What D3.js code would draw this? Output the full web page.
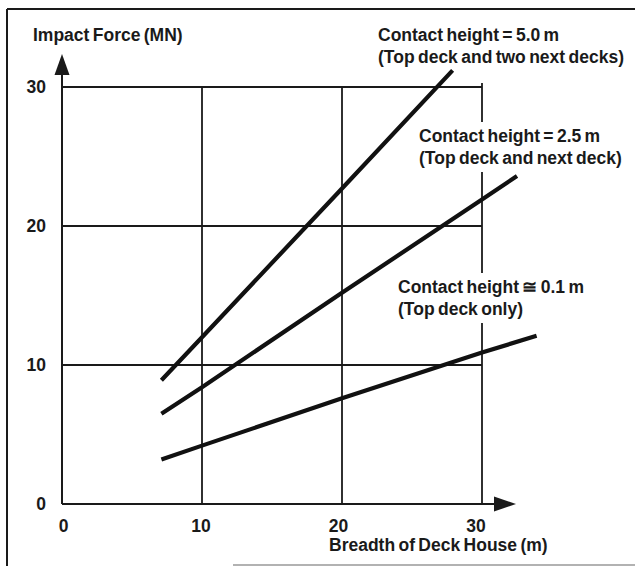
<!DOCTYPE html>
<html>
<head>
<meta charset="utf-8">
<script src="https://cdn.jsdelivr.net/npm/d3@7"></script>
<style>
  html, body { margin: 0; padding: 0; background: #fff; }
  svg { display: block; }
  text { font-family: "Liberation Sans", Arial, sans-serif; font-weight: bold; fill: #1a1a1a; }
</style>
</head>
<body>
<svg id="chart" width="635" height="566"></svg>
<script>
// ---- data ----
const xTicks = [0, 10, 20, 30];
const yTicks = [0, 10, 20, 30];
const xLabel = "Breadth of Deck House (m)";
const yLabel = "Impact Force (MN)";

const seriesNames = ["Contact height = 5.0 m", "Contact height = 2.5 m", "Contact height \u2245 0.1 m"];
const seriesSubs = ["(Top deck and two next decks)", "(Top deck and next deck)", "(Top deck only)"];

const breadth50 = [7.1, 10, 20, 27.9];
const force50   = [8.9, 12.0, 22.7, 31.2];
const breadth25 = [7.1, 10, 20, 30, 32.5];
const force25   = [6.5, 8.4, 15.2, 21.9, 23.6];
const breadth01 = [7.1, 10, 20, 30, 33.9];
const force01   = [3.2, 4.2, 7.6, 10.9, 12.1];

// ---- layout ----
const svg = d3.select("#chart");
const x = d3.scaleLinear().domain([0, 30]).range([62, 482]);
const y = d3.scaleLinear().domain([0, 30]).range([504, 87]);
const ink = "#1a1a1a";
const fs = 17.5;
const ws = -1.5;

// outer frame
svg.append("line").attr("x1", 7).attr("x2", 635).attr("y1", 9).attr("y2", 9)
  .attr("stroke", ink).attr("stroke-width", 2);
svg.append("line").attr("x1", 7).attr("x2", 7).attr("y1", 9).attr("y2", 566)
  .attr("stroke", ink).attr("stroke-width", 2);
svg.append("line").attr("x1", 233).attr("x2", 635).attr("y1", 565).attr("y2", 565)
  .attr("stroke", "#999").attr("stroke-width", 1.5);

// grid
const grid = svg.append("g").attr("stroke", ink).attr("stroke-width", 1.8);
yTicks.filter(d => d > 0).forEach(d => {
  grid.append("line").attr("x1", x(0)).attr("x2", x(30)).attr("y1", y(d)).attr("y2", y(d));
});
xTicks.filter(d => d > 0).forEach(d => {
  grid.append("line").attr("x1", x(d)).attr("x2", x(d)).attr("y1", y(0)).attr("y2", y(30) - (d === 30 ? 4 : 0));
});

// axes with arrows
svg.append("line").attr("x1", x(0)).attr("x2", x(0)).attr("y1", y(0)).attr("y2", 70)
  .attr("stroke", ink).attr("stroke-width", 2);
svg.append("path").attr("d", `M${x(0)},54 L${x(0) - 7.5},75 L${x(0) + 7.5},75 Z`).attr("fill", ink);
svg.append("line").attr("x1", x(0)).attr("x2", 500).attr("y1", y(0)).attr("y2", y(0))
  .attr("stroke", ink).attr("stroke-width", 2);
svg.append("path").attr("d", `M516,${y(0)} L494,${y(0) - 7.5} L494,${y(0) + 7.5} Z`).attr("fill", ink);

// tick labels
svg.append("g").selectAll("text").data(yTicks).join("text")
  .attr("x", 46).attr("y", d => y(d) + 6).attr("text-anchor", "end")
  .attr("font-size", fs).text(d => d);
svg.append("g").selectAll("text").data(xTicks).join("text")
  .attr("x", (d, i) => x(d) + 1.5 - i * 2.5).attr("y", 532).attr("text-anchor", "middle")
  .attr("font-size", fs).text(d => d);

// axis titles
svg.append("text").attr("x", 33).attr("y", 41).attr("font-size", fs)
  .attr("word-spacing", ws).text(yLabel);
svg.append("text").attr("x", 329).attr("y", 551).attr("font-size", fs)
  .attr("word-spacing", ws).text(xLabel);

// series labels (with white backgrounds covering grid)
const labelPos = [[378, 41], [419, 142], [398, 293]];
labelPos.forEach((p, i) => {
  const g = svg.append("g");
  const bg = g.append("rect").attr("fill", "#fff");
  g.append("text").attr("x", p[0]).attr("y", p[1]).attr("font-size", fs)
    .attr("word-spacing", ws).text(seriesNames[i]);
  g.append("text").attr("x", p[0]).attr("y", p[1] + 22).attr("font-size", fs)
    .attr("word-spacing", ws).text(seriesSubs[i]);
  const b = g.node().getBBox();
  bg.attr("x", b.x - 4).attr("y", b.y - 4).attr("width", b.width + 8).attr("height", b.height + 8);
});

// data lines
const line = d3.line().x(d => x(d[0])).y(d => y(d[1]));
const series = [
  d3.zip(breadth50, force50),
  d3.zip(breadth25, force25),
  d3.zip(breadth01, force01)
];
svg.append("g").selectAll("path").data(series).join("path")
  .attr("d", line).attr("fill", "none").attr("stroke", "#111")
  .attr("stroke-width", 4.2).attr("stroke-linecap", "butt");
</script>
</body>
</html>
